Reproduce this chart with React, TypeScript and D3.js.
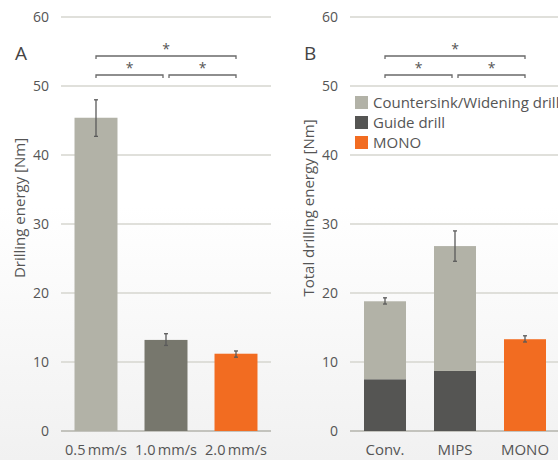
import React from 'react';
import * as d3 from 'd3';

// panel A: drilling energy per feed rate
const speedLabels = ['0.5\u2009mm/s', '1.0\u2009mm/s', '2.0\u2009mm/s'];
const speedMeans = [45.4, 13.2, 11.2];
const speedLow = [42.7, 12.4, 10.7];
const speedHigh = [48.0, 14.1, 11.6];
const speedColors = ['#b2b2a7', '#77776d', '#f26c21'];

// panel B: total drilling energy per drill system
const systemLabels = ['Conv.', 'MIPS', 'MONO'];
const guideValues = [7.5, 8.7, 0];
const widenValues = [11.3, 18.1, 0];
const monoValues = [0, 0, 13.3];
const totalLow = [18.4, 24.6, 12.9];
const totalHigh = [19.3, 29.0, 13.8];

const legendLabels = ['Countersink/Widening drill', 'Guide drill', 'MONO'];
const legendColors = ['#b2b2a7', '#555553', '#f26c21'];

const yTicks = [0, 10, 20, 30, 40, 50, 60];

const W = 558;
const H = 460;
const font = '"Open Sans", "DejaVu Sans", sans-serif';
const textColor = '#555';

const y = d3.scaleLinear().domain([0, 60]).range([431, 17]);

interface Bracket { from: number; to: number; level: number }

const Axes: React.FC<{ x0: number; x1: number; labelX: number }> = ({ x0, x1, labelX }) => (
  <g>
    {yTicks.map(t => (
      <g key={t}>
        <line x1={x0} x2={x1} y1={y(t)} y2={y(t)} stroke={t === 0 ? '#b3b3ab' : '#d6d6cf'} strokeWidth={1.5} />
        <text x={labelX} y={y(t)} dy="0.36em" textAnchor="end" fontSize={14} fill={textColor} fontFamily={font}>{t}</text>
      </g>
    ))}
  </g>
);

const Brackets: React.FC<{ xs: number[]; items: Bracket[] }> = ({ xs, items }) => (
  <g stroke="#6a6a6a" strokeWidth={1.3} fill="none">
    {items.map((b, i) => {
      const yy = b.level === 1 ? 56 : 75;
      const a = xs[b.from] + (b.level === 0 && b.from === 1 ? 3 : 0);
      const c = xs[b.to] - (b.level === 0 && b.to === 1 ? 3 : 0);
      return (
        <g key={i}>
          <path d={`M${a},${yy + 3}V${yy}H${c}V${yy + 3}`} />
          <text x={(a + c) / 2} y={yy - 2} textAnchor="middle" fontSize={14} fill={textColor} stroke="none" fontFamily={font}>*</text>
        </g>
      );
    })}
  </g>
);

const ErrorBar: React.FC<{ cx: number; lo: number; hi: number }> = ({ cx, lo, hi }) => (
  <g stroke="#5a5a5a" strokeWidth={1.3}>
    <line x1={cx} x2={cx} y1={y(lo)} y2={y(hi)} />
    <line x1={cx - 2} x2={cx + 2} y1={y(lo)} y2={y(lo)} />
    <line x1={cx - 2} x2={cx + 2} y1={y(hi)} y2={y(hi)} />
  </g>
);

const App: React.FC = () => {
  const xA = d3.scaleBand<string>().domain(speedLabels).range([61, 271]).paddingInner(0.386).paddingOuter(0.193);
  const xB = d3.scaleBand<string>().domain(systemLabels).range([350, 560]).paddingInner(0.4).paddingOuter(0.2);
  const cA = speedLabels.map(l => (xA(l) as number) + xA.bandwidth() / 2);
  const cB = systemLabels.map(l => (xB(l) as number) + xB.bandwidth() / 2);

  const stackRows = systemLabels.map((l, i) => ({ key: l, guide: guideValues[i], widen: widenValues[i], mono: monoValues[i] }));
  const stacked = d3.stack<any>().keys(['guide', 'widen', 'mono'])(stackRows);
  const stackColors: Record<string, string> = { guide: '#555553', widen: '#b2b2a7', mono: '#f26c21' };

  const brackets: Bracket[] = [
    { from: 0, to: 2, level: 1 },
    { from: 0, to: 1, level: 0 },
    { from: 1, to: 2, level: 0 },
  ];

  return (
    <div style={{ position: 'absolute', left: 0, top: 0 }}>
      <svg width={W} height={H} style={{ display: 'block' }}>
        <defs>
          <linearGradient id="bg" x1="0" y1="0" x2="0" y2="1">
            <stop offset="0" stopColor="#ffffff" />
            <stop offset="0.45" stopColor="#ffffff" />
            <stop offset="1" stopColor="#f1f1f1" />
          </linearGradient>
        </defs>
        <rect width={W} height={H} fill="url(#bg)" />

        {/* panel A */}
        <Axes x0={61} x1={271} labelX={49} />
        <text x={15} y={60} fontSize={19} fill="#444" fontFamily={font}>A</text>
        <text transform="translate(25,208) rotate(-90)" textAnchor="middle" fontSize={15} fill={textColor} fontFamily={font}>Drilling energy [Nm]</text>
        {speedLabels.map((l, i) => (
          <g key={l}>
            <rect x={xA(l)} y={y(speedMeans[i])} width={xA.bandwidth()} height={y(0) - y(speedMeans[i])} fill={speedColors[i]} />
            <ErrorBar cx={cA[i]} lo={speedLow[i]} hi={speedHigh[i]} />
            <text x={cA[i]} y={455} textAnchor="middle" fontSize={14.5} fill={textColor} fontFamily={font}>{l}</text>
          </g>
        ))}
        <Brackets xs={cA} items={brackets} />

        {/* panel B */}
        <Axes x0={350} x1={560} labelX={338} />
        <text x={304} y={60} fontSize={19} fill="#444" fontFamily={font}>B</text>
        <text transform="translate(314,208) rotate(-90)" textAnchor="middle" fontSize={15} fill={textColor} fontFamily={font}>Total drilling energy [Nm]</text>
        {stacked.map(layer => (
          <g key={layer.key} fill={stackColors[layer.key]}>
            {layer.map((d, i) => (
              d[1] > d[0] ? (
                <rect key={i} x={xB(systemLabels[i])} y={y(d[1])} width={xB.bandwidth()} height={y(d[0]) - y(d[1])} />
              ) : null
            ))}
          </g>
        ))}
        {systemLabels.map((l, i) => (
          <g key={l}>
            <ErrorBar cx={cB[i]} lo={totalLow[i]} hi={totalHigh[i]} />
            <text x={cB[i]} y={455} textAnchor="middle" fontSize={15} fill={textColor} fontFamily={font}>{l}</text>
          </g>
        ))}
        <Brackets xs={cB} items={brackets} />

        {legendLabels.map((l, i) => (
          <g key={l} transform={`translate(355,${96 + i * 20})`}>
            <rect width={13} height={13} fill={legendColors[i]} />
            <text x={18} y={11.5} fontSize={15} fill={textColor} fontFamily={font}>{l}</text>
          </g>
        ))}
      </svg>
    </div>
  );
};

export default App;
